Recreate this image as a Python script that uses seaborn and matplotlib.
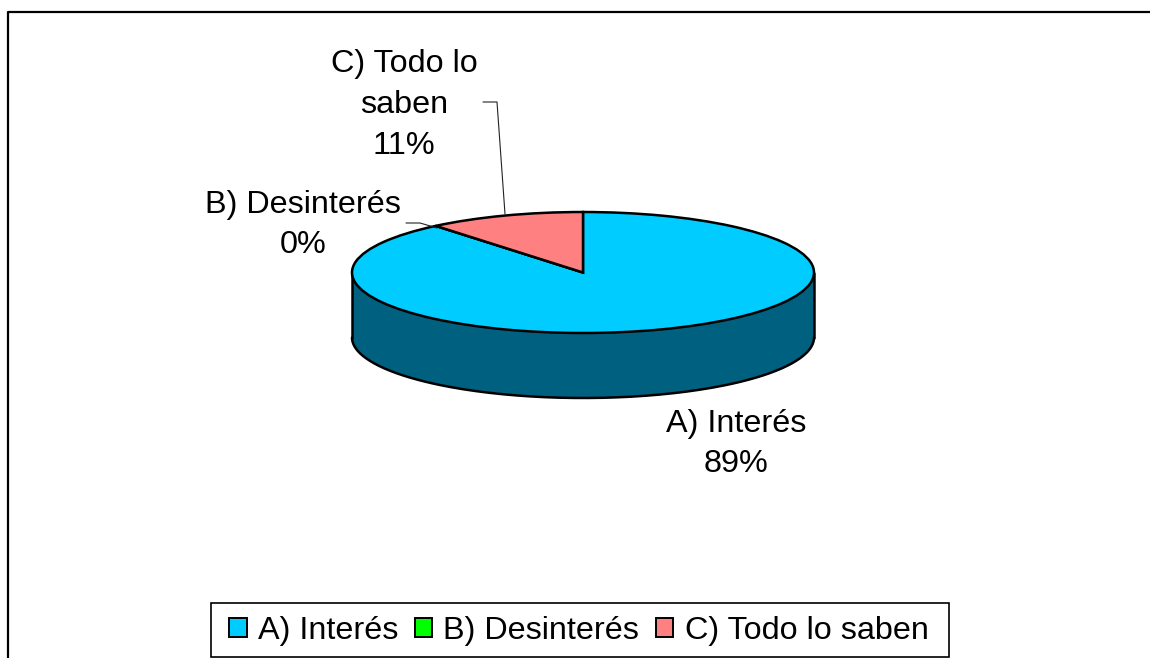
import numpy as np
import matplotlib
matplotlib.use('Agg')
import matplotlib.pyplot as plt
from matplotlib.lines import Line2D
from matplotlib.patches import Patch, Rectangle
import seaborn as sns

# Data
categories = ['A) Interés', 'B) Desinterés', 'C) Todo lo saben']
values = [89, 0, 11]
slice_colors = ['#00CCFF', '#00FF00', '#FF8080']
side_color = '#006080'

W, H = 1150, 658
CX, CY = 583, 272.5
RX, RY = 231, 60.5
DEPTH = 65 / RY
FONT_SIZE = 23.3


sns.set_theme(style='white')
plt.rcParams['font.family'] = ['Liberation Sans', 'DejaVu Sans']


def fx(px):
    return px / W


def fy(py):
    return 1 - py / H


def main():
    fig = plt.figure(figsize=(W / 100, H / 100), dpi=100)
    ax = fig.add_axes([0, 0, 1, 1])

    # Side of the cylinder, only the front half shows
    theta = np.linspace(np.pi, 2 * np.pi, 200)
    xs = np.cos(theta)
    ys = np.sin(theta)
    ax.fill_between(xs, ys - DEPTH, ys, color=side_color, lw=0, zorder=1)
    ax.plot(xs, ys - DEPTH, color='black', lw=1.8, zorder=2)
    ax.plot([-1, -1], [0, -DEPTH], color='black', lw=1.8, zorder=2)
    ax.plot([1, 1], [0, -DEPTH], color='black', lw=1.8, zorder=2)

    # Top face, pie is stretched by the axes scale below
    wedges, _ = ax.pie(values, colors=sns.color_palette(slice_colors), startangle=90,
                       counterclock=False, radius=1,
                       wedgeprops={'edgecolor': 'black', 'linewidth': 1.8, 'zorder': 3})
    ax.set_aspect('auto')
    ax.set_xlim(-CX / RX, (W - CX) / RX)
    ax.set_ylim((CY - H) / RY, CY / RY)
    ax.axis('off')

    # Data labels
    pct = [f'{v}%' for v in values]
    text_kw = dict(ha='center', va='center', fontsize=FONT_SIZE, color='black', linespacing=1.46)
    fig.text(fx(736), fy(444), f'{categories[0]}\n{pct[0]}', **text_kw)
    fig.text(fx(303), fy(225), f'{categories[1]}\n{pct[1]}', **text_kw)
    fig.text(fx(404), fy(105), f'C) Todo lo\nsaben\n{pct[2]}', **text_kw)

    # Leader lines
    leaders = [([483, 497, 505], [102, 102, 214]), ([406, 420, 437], [223, 223, 228])]
    for lx, ly in leaders:
        fig.add_artist(Line2D([fx(p) for p in lx], [fy(p) for p in ly],
                              color='#222222', lw=0.8, zorder=5))

    # Chart area frame, only left and top are inside the crop
    fig.add_artist(Line2D([fx(8), fx(8), fx(W)], [fy(H), fy(11.5), fy(11.5)],
                          color='black', lw=1.6))

    # Legend box is drawn apart so the padding can differ per side
    fig.add_artist(Rectangle((fx(211), fy(657)), 738 / W, 54 / H, transform=fig.transFigure,
                             facecolor='white', edgecolor='black', lw=1.2))
    handles = [Patch(facecolor=c, edgecolor='black', linewidth=1.4) for c in slice_colors]
    leg = fig.legend(handles, categories, ncol=3, loc='center left',
                     bbox_to_anchor=(fx(229), fy(631)), bbox_transform=fig.transFigure,
                     fontsize=FONT_SIZE, frameon=False, borderpad=0, borderaxespad=0,
                     handlelength=0.555, handleheight=0.555, handletextpad=0.34,
                     columnspacing=0.5, labelcolor='black')
    leg.set_zorder(6)

    fig.savefig('out.png', dpi=100, facecolor='white')


if __name__ == '__main__':
    main()
